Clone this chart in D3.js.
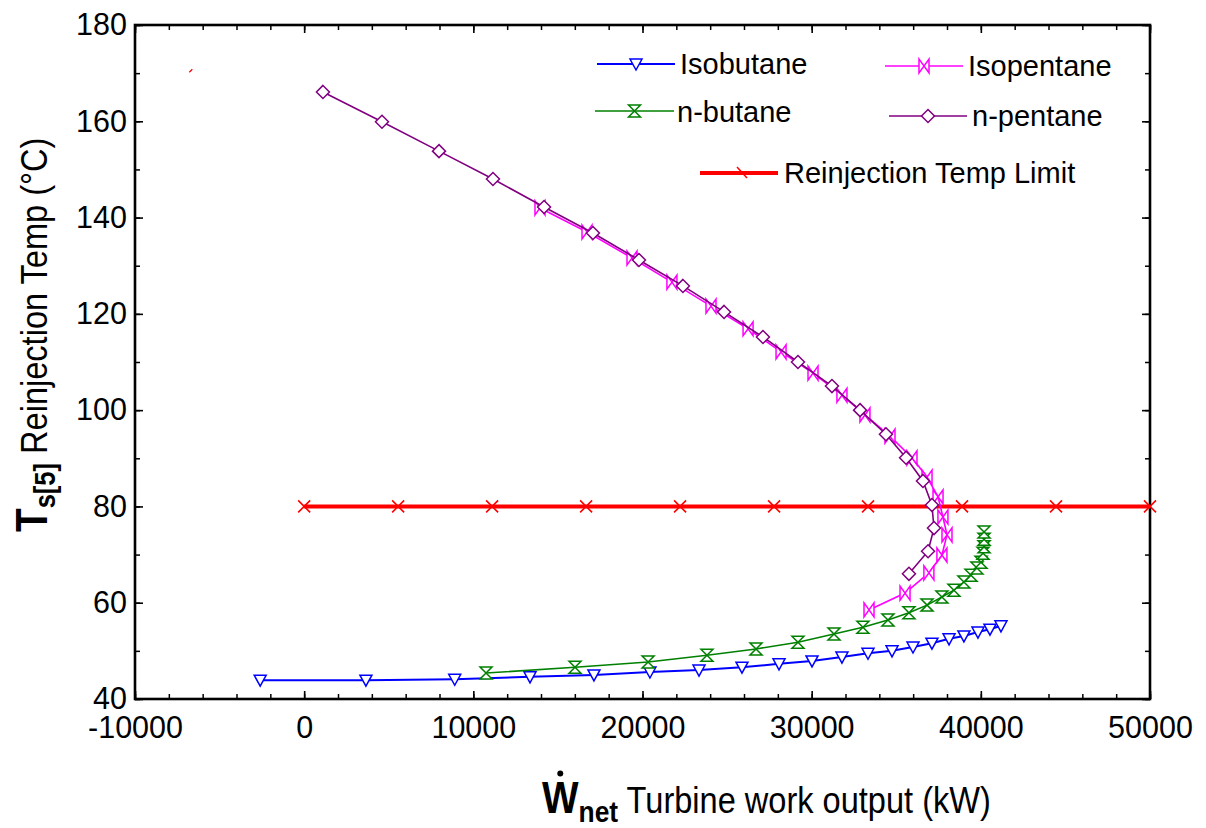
<!DOCTYPE html>
<html>
<head>
<meta charset="utf-8">
<script src="https://cdn.jsdelivr.net/npm/d3@7"></script>
<style>
  body { margin: 0; background: #fff; }
  svg { font-family: "Liberation Sans", Arial, sans-serif; }
</style>
</head>
<body>
<svg id="chart"></svg>
<script>
// data: turbine work output (kW) vs reinjection temp (°C)
const isobutaneW = [-2600, 3650, 8900, 13350, 17130, 20440, 23340, 25880, 28070, 30020,
  31790, 33330, 34750, 35990, 37110, 38120, 39000, 39830, 40540, 41190];
const isobutaneT = [43.9, 43.9, 44.1, 44.6, 45.0, 45.6, 46.0, 46.6, 47.3, 47.9,
  48.7, 49.5, 50.0, 50.8, 51.6, 52.5, 53.1, 53.9, 54.5, 55.2];

const isopentaneW = [13940, 16720, 19380, 21740, 24050, 26240, 28190, 30080, 31790, 33150,
  34630, 35930, 36820, 37470, 37760, 38000, 37700, 36930, 35520, 33390];
const isopentaneT = [142.0, 137.0, 131.6, 126.6, 121.6, 116.9, 112.1, 107.7, 103.1, 99.0,
  94.6, 90.1, 86.1, 82.0, 77.8, 74.1, 69.9, 66.2, 62.0, 58.5];

const nbutaneW = [10750, 16010, 20330, 23810, 26710, 29190, 31320, 33030, 34510, 35750,
  36820, 37700, 38410, 39000, 39420, 39770, 40010, 40130, 40190, 40190, 40190];
const nbutaneT = [45.4, 46.6, 47.7, 49.1, 50.4, 51.8, 53.5, 54.9, 56.4, 57.9,
  59.5, 61.2, 62.6, 64.3, 65.7, 67.2, 68.4, 70.3, 71.6, 73.2, 74.7];

const npentaneW = [1110, 4600, 7970, 11160, 14180, 17070, 19790, 22390, 24820, 27120,
  29190, 31200, 32860, 34390, 35580, 36580, 37110, 37230, 36880, 35750];
const npentaneT = [166.1, 159.9, 153.8, 148.0, 142.2, 136.8, 131.2, 125.8, 120.4, 115.2,
  110.0, 105.0, 100.0, 95.0, 90.1, 85.3, 80.3, 75.5, 70.7, 66.0];

const limitW = [0, 5556, 11111, 16667, 22222, 27778, 33333, 38889, 44444, 50000];
const limitT = [80, 80, 80, 80, 80, 80, 80, 80, 80, 80];

// small red stray mark near the top left of the plot
const strayMark = { w: -6700, t: 170.5 };

const xTicks = [-10000, 0, 10000, 20000, 30000, 40000, 50000];
const yTicks = [40, 60, 80, 100, 120, 140, 160, 180];

const config = {
  width: 1206,
  height: 828,
  margin: { top: 25, right: 56, bottom: 129, left: 135 },
};

const innerW = config.width - config.margin.left - config.margin.right;
const innerH = config.height - config.margin.top - config.margin.bottom;

const svg = d3.select('#chart')
  .attr('width', config.width)
  .attr('height', config.height);

const chart = svg.append('g')
  .attr('transform', `translate(${config.margin.left},${config.margin.top})`);

const xScale = d3.scaleLinear().domain([-10000, 50000]).range([0, innerW]);
const yScale = d3.scaleLinear().domain([40, 180]).range([innerH, 0]);

// marker shapes
const markers = {
  triangleDown: 'M-6,-5L6,-5L0,6Z',
  bowtie: 'M-5,-7L-5,7L5,-7L5,7Z',
  hourglass: 'M-6,-6L6,-6L-6,6L6,6Z',
  diamond: 'M0,-6.5L6.5,0L0,6.5L-6.5,0Z',
  cross: 'M-6,-6L6,6M-6,6L6,-6',
};

const series = [
  { name: 'Isobutane', w: isobutaneW, t: isobutaneT, color: '#0000ff', marker: 'triangleDown', width: 2 },
  { name: 'Isopentane', w: isopentaneW, t: isopentaneT, color: '#ff00ff', marker: 'bowtie', width: 1.6 },
  { name: 'n-butane', w: nbutaneW, t: nbutaneT, color: '#008000', marker: 'hourglass', width: 1.6 },
  { name: 'n-pentane', w: npentaneW, t: npentaneT, color: '#800080', marker: 'diamond', width: 1.6 },
];

// axes: ticks point inward on all four sides
const xMinor = d3.range(-10000, 50001, 2000);
const yMinor = d3.range(40, 181, 10);

const axisDefs = [
  { axis: d3.axisBottom(xScale), pos: `translate(0,${innerH})`, minor: xMinor },
  { axis: d3.axisTop(xScale), pos: 'translate(0,0)', minor: xMinor },
  { axis: d3.axisLeft(yScale), pos: 'translate(0,0)', minor: yMinor },
  { axis: d3.axisRight(yScale), pos: `translate(${innerW},0)`, minor: yMinor },
];

axisDefs.forEach((a) => {
  chart.append('g')
    .attr('transform', a.pos)
    .call(a.axis.tickValues(a.minor).tickSize(-5).tickFormat(''))
    .call((g) => g.select('.domain').remove())
    .call((g) => g.selectAll('line').attr('stroke', '#000').attr('stroke-width', 1.5));
});

const xAxisG = chart.append('g').attr('transform', `translate(0,${innerH})`)
  .call(d3.axisBottom(xScale).tickValues(xTicks).tickSize(-8).tickPadding(18)
    .tickFormat((d) => String(d)));
const xTopG = chart.append('g')
  .call(d3.axisTop(xScale).tickValues(xTicks).tickSize(-8).tickFormat(''));
const yAxisG = chart.append('g')
  .call(d3.axisLeft(yScale).tickValues(yTicks).tickSize(-8).tickPadding(16)
    .tickFormat((d) => String(d)));
const yRightG = chart.append('g').attr('transform', `translate(${innerW},0)`)
  .call(d3.axisRight(yScale).tickValues(yTicks).tickSize(-8).tickFormat(''));

[xAxisG, xTopG, yAxisG, yRightG].forEach((g) => {
  g.select('.domain').remove();
  g.selectAll('line').attr('stroke', '#000').attr('stroke-width', 1.6);
  g.selectAll('text')
    .attr('fill', '#000')
    .style('font-size', '30.5px')
    .style('font-family', '"Liberation Sans", Arial, sans-serif');
});
xAxisG.selectAll('text').attr('dy', '0.71em').attr('y', 17);
yAxisG.selectAll('text').attr('x', -8);

// plot frame
chart.append('rect')
  .attr('width', innerW)
  .attr('height', innerH)
  .attr('fill', 'none')
  .attr('stroke', '#000')
  .attr('stroke-width', 2.6);

// reinjection temperature limit
const limitData = limitW.map((w, i) => ({ w, t: limitT[i] }));
chart.append('path')
  .datum(limitData)
  .attr('fill', 'none')
  .attr('stroke', '#ff0000')
  .attr('stroke-width', 4)
  .attr('d', d3.line().x((d) => xScale(d.w)).y((d) => yScale(d.t)));
chart.selectAll('.limit-marker')
  .data(limitData)
  .join('path')
  .attr('class', 'limit-marker')
  .attr('transform', (d) => `translate(${xScale(d.w)},${yScale(d.t)})`)
  .attr('d', markers.cross)
  .attr('stroke', '#ff0000')
  .attr('stroke-width', 1.6)
  .attr('fill', 'none');

chart.append('line')
  .attr('x1', xScale(strayMark.w) - 1.5)
  .attr('y1', yScale(strayMark.t) + 1.5)
  .attr('x2', xScale(strayMark.w) + 1.5)
  .attr('y2', yScale(strayMark.t) - 1.5)
  .attr('stroke', '#ff0000')
  .attr('stroke-width', 1.2);

// data series
series.forEach((s) => {
  const pts = s.w.map((w, i) => ({ w, t: s.t[i] }));
  const g = chart.append('g').attr('class', `series ${s.name}`);
  g.append('path')
    .datum(pts)
    .attr('fill', 'none')
    .attr('stroke', s.color)
    .attr('stroke-width', s.width)
    .attr('d', d3.line().x((d) => xScale(d.w)).y((d) => yScale(d.t)));
  g.selectAll('.marker')
    .data(pts)
    .join('path')
    .attr('class', 'marker')
    .attr('transform', (d) => `translate(${xScale(d.w)},${yScale(d.t)})`)
    .attr('d', markers[s.marker])
    .attr('fill', '#fff')
    .attr('stroke', s.color)
    .attr('stroke-width', 1.5);
});

// legend
const legendItems = [
  { s: series[0], x1: 597, x2: 675, y: 64, tx: 680, ty: 74 },
  { s: series[1], x1: 885, x2: 963, y: 66, tx: 968, ty: 76 },
  { s: series[2], x1: 595, x2: 674, y: 111, tx: 677, ty: 122 },
  { s: series[3], x1: 889, x2: 967, y: 116, tx: 972, ty: 126 },
];
const legend = svg.append('g').attr('class', 'legend');
legendItems.forEach((d) => {
  legend.append('line')
    .attr('x1', d.x1).attr('x2', d.x2).attr('y1', d.y).attr('y2', d.y)
    .attr('stroke', d.s.color).attr('stroke-width', d.s.width);
  legend.append('path')
    .attr('transform', `translate(${(d.x1 + d.x2) / 2},${d.y})`)
    .attr('d', markers[d.s.marker])
    .attr('fill', '#fff')
    .attr('stroke', d.s.color)
    .attr('stroke-width', 1.5);
  legend.append('text')
    .attr('x', d.tx).attr('y', d.ty)
    .style('font-size', '29px')
    .text(d.s.name);
});
legend.append('line')
  .attr('x1', 700).attr('x2', 778).attr('y1', 173).attr('y2', 173)
  .attr('stroke', '#ff0000').attr('stroke-width', 4);
legend.append('path')
  .attr('transform', 'translate(742,173)')
  .attr('d', 'M-5,-6L5,5')
  .attr('stroke', '#ff0000').attr('stroke-width', 1.5);
legend.append('text')
  .attr('x', 784).attr('y', 183)
  .style('font-size', '29px')
  .text('Reinjection Temp Limit');

// axis titles are set in a narrowed face, as in the original figure
const narrow = 0.88;

// x axis title
const xTitleX = 542;
const xTitleY = 813;
const xTitle = svg.append('text')
  .attr('transform', `translate(${xTitleX},${xTitleY}) scale(${narrow},1)`);
xTitle.append('tspan').style('font-weight', 'bold').style('font-size', '44px').text('W');
xTitle.append('tspan').style('font-weight', 'bold').style('font-size', '30px').attr('dy', 9).text('net');
xTitle.append('tspan').style('font-size', '37px').attr('dy', -9).text(' Turbine work output (kW)');
const wExt = xTitle.node().getExtentOfChar(0);
svg.append('circle')
  .attr('cx', xTitleX + (wExt.x + wExt.width / 2) * narrow)
  .attr('cy', xTitleY - 0.716 * 44 - 8)
  .attr('r', 3)
  .attr('fill', '#000');

// y axis title
const yTitle = svg.append('text')
  .attr('transform', `translate(47,532) rotate(-90) scale(${narrow},1)`);
yTitle.append('tspan').style('font-weight', 'bold').style('font-size', '44px').text('T');
yTitle.append('tspan').style('font-weight', 'bold').style('font-size', '29px').attr('dy', 8).text('s[5]');
yTitle.append('tspan').style('font-size', '37px').attr('dy', -8).text(' Reinjection Temp (°C)');
</script>
</body>
</html>
